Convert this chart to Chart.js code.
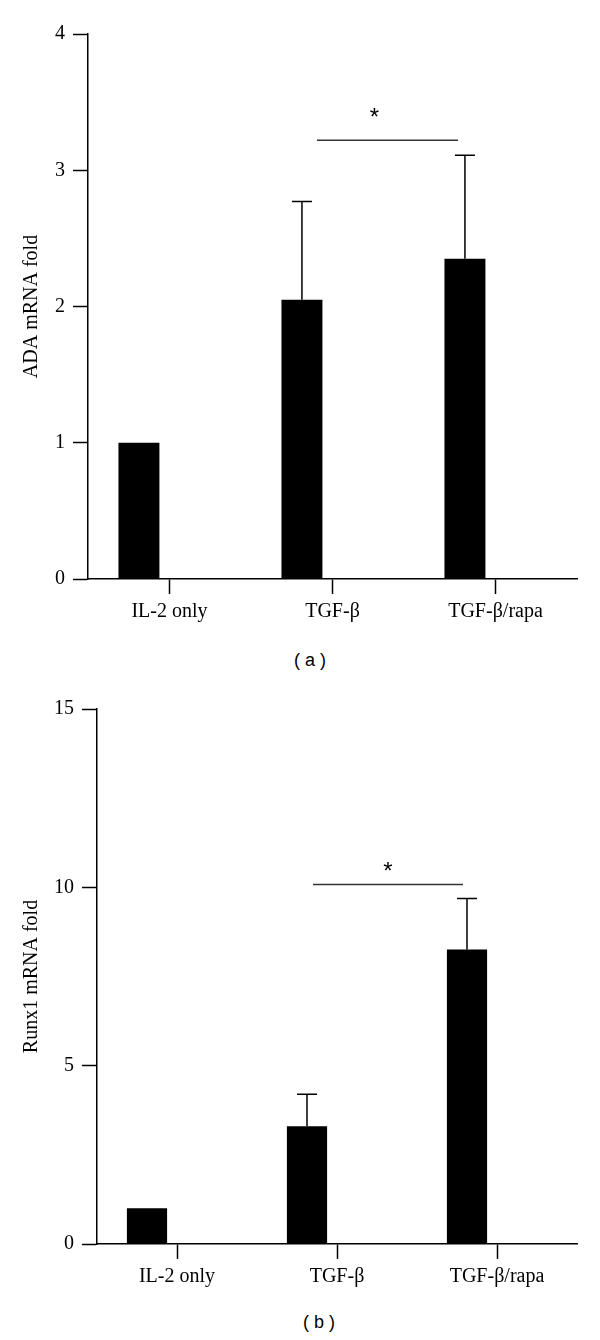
<!DOCTYPE html>
<html lang="en">
<head>
  <meta charset="UTF-8" />
  <title>ADA and Runx1 mRNA fold</title>
  <script src="https://cdn.jsdelivr.net/npm/chart.js"></script>
  <style>
    body {
      margin: 0;
      background: #fff;
      width: 600px;
      height: 1340px;
      position: relative;
      overflow: hidden;
    }
    .panel {
      position: absolute;
      left: 0;
      width: 600px;
    }
    #panelA { top: 0; height: 630px; }
    #panelB { top: 680px; height: 610px; }
    .caption {
      position: absolute;
      font-family: "Liberation Sans", Arial, sans-serif;
      font-size: 18px;
      color: #000;
      white-space: pre;
    }
  </style>
</head>
<body>
  <div class="panel" id="panelA"><canvas id="chartA"></canvas></div>
  <div class="caption" style="left:294px; top:650px;">( a )</div>
  <div class="panel" id="panelB"><canvas id="chartB"></canvas></div>
  <div class="caption" style="left:303px; top:1312px;">( b )</div>

  <script>
    const groups = ["IL-2 only", "TGF-β", "TGF-β/rapa"];

    // panel (a): ADA
    const adaFold = [1.0, 2.05, 2.35];
    const adaErr = [0, 0.72, 0.76];
    const adaTicks = [0, 1, 2, 3, 4];

    // panel (b): Runx1
    const runxFold = [1.0, 3.3, 8.26];
    const runxErr = [0, 0.9, 1.43];
    const runxTicks = [0, 5, 10, 15];

    // empty second slot so the bars sit left of the tick
    const emptySlot = [null, null, null];

    const serif = "'Liberation Serif', 'DejaVu Serif', serif";

    // draws the upper error bars and the significance bracket
    const extras = {
      id: "extras",
      afterDatasetsDraw(chart, args, opts) {
        const ctx = chart.ctx;
        const meta = chart.getDatasetMeta(0);
        const ds = chart.data.datasets[0];
        const y = chart.scales.y;
        ctx.save();
        ctx.strokeStyle = "#000";
        ctx.lineWidth = 1.5;
        ds.errors.forEach((e, i) => {
          if (!e) return;
          const bar = meta.data[i];
          const top = y.getPixelForValue(ds.data[i] + e);
          ctx.beginPath();
          ctx.moveTo(bar.x, bar.y);
          ctx.lineTo(bar.x, top);
          ctx.moveTo(bar.x - 10, top);
          ctx.lineTo(bar.x + 10, top);
          ctx.stroke();
        });

        const s = opts.sig;
        const x0 = meta.data[s.from].x + s.startOff;
        const x1 = meta.data[s.to].x + s.endOff;
        const ly = y.getPixelForValue(s.level);
        ctx.strokeStyle = "#333";
        ctx.beginPath();
        ctx.moveTo(x0, ly);
        ctx.lineTo(x1, ly);
        ctx.stroke();
        ctx.fillStyle = "#000";
        ctx.font = "24px 'Liberation Sans', sans-serif";
        ctx.textAlign = "center";
        ctx.textBaseline = "middle";
        ctx.fillText("*", (x0 + x1) / 2 + s.starDx, ly - s.starGap);
        ctx.restore();
      }
    };

    function makeChart(id, values, errors, ticks, yTitle, geom) {
      return new Chart(document.getElementById(id), {
        type: "bar",
        data: {
          labels: groups,
          datasets: [
            { data: values, errors: errors, backgroundColor: "#000", borderWidth: 0 },
            { data: emptySlot, backgroundColor: "#000", borderWidth: 0 }
          ]
        },
        options: {
          responsive: true,
          maintainAspectRatio: false,
          animation: false,
          categoryPercentage: 0.75,
          barPercentage: 0.67,
          layout: { padding: { top: geom.top, right: 23, left: 0, bottom: 0 } },
          plugins: {
            legend: { display: false },
            tooltip: { enabled: false },
            extras: { sig: geom.sig }
          },
          scales: {
            x: {
              offset: true,
              afterFit(scale) { scale.height = geom.xHeight; },
              grid: {
                offset: false,
                drawOnChartArea: false,
                tickLength: 15,
                tickWidth: 1.5,
                tickColor: "#000"
              },
              border: { color: "#000", width: 1.5 },
              ticks: {
                color: "#000",
                padding: 6,
                maxRotation: 0,
                font: { family: serif, size: 20 }
              }
            },
            y: {
              min: ticks[0],
              max: ticks[ticks.length - 1],
              afterFit(scale) { scale.width = geom.yWidth; },
              afterBuildTicks(scale) { scale.ticks = ticks.map(v => ({ value: v })); },
              grid: {
                drawOnChartArea: false,
                tickLength: 15,
                tickWidth: 1.5,
                tickColor: "#000"
              },
              border: { color: "#000", width: 1.5 },
              ticks: {
                color: "#000",
                padding: 8,
                font: { family: serif, size: 20 }
              },
              title: {
                display: true,
                text: yTitle,
                color: "#000",
                padding: { top: 20, bottom: 0 },
                font: { family: serif, size: 20, weight: "normal" }
              }
            }
          }
        },
        plugins: [extras]
      });
    }

    makeChart("chartA", adaFold, adaErr, adaTicks, "ADA mRNA fold", {
      top: 34, xHeight: 51, yWidth: 88,
      sig: { from: 1, to: 2, level: 3.22, startOff: 15, endOff: -7, starDx: -13, starGap: 22 }
    });

    makeChart("chartB", runxFold, runxErr, runxTicks, "Runx1 mRNA fold", {
      top: 29, xHeight: 46, yWidth: 97,
      sig: { from: 1, to: 2, level: 10.08, startOff: 6, endOff: -4, starDx: 0, starGap: 12 }
    });
  </script>
</body>
</html>
